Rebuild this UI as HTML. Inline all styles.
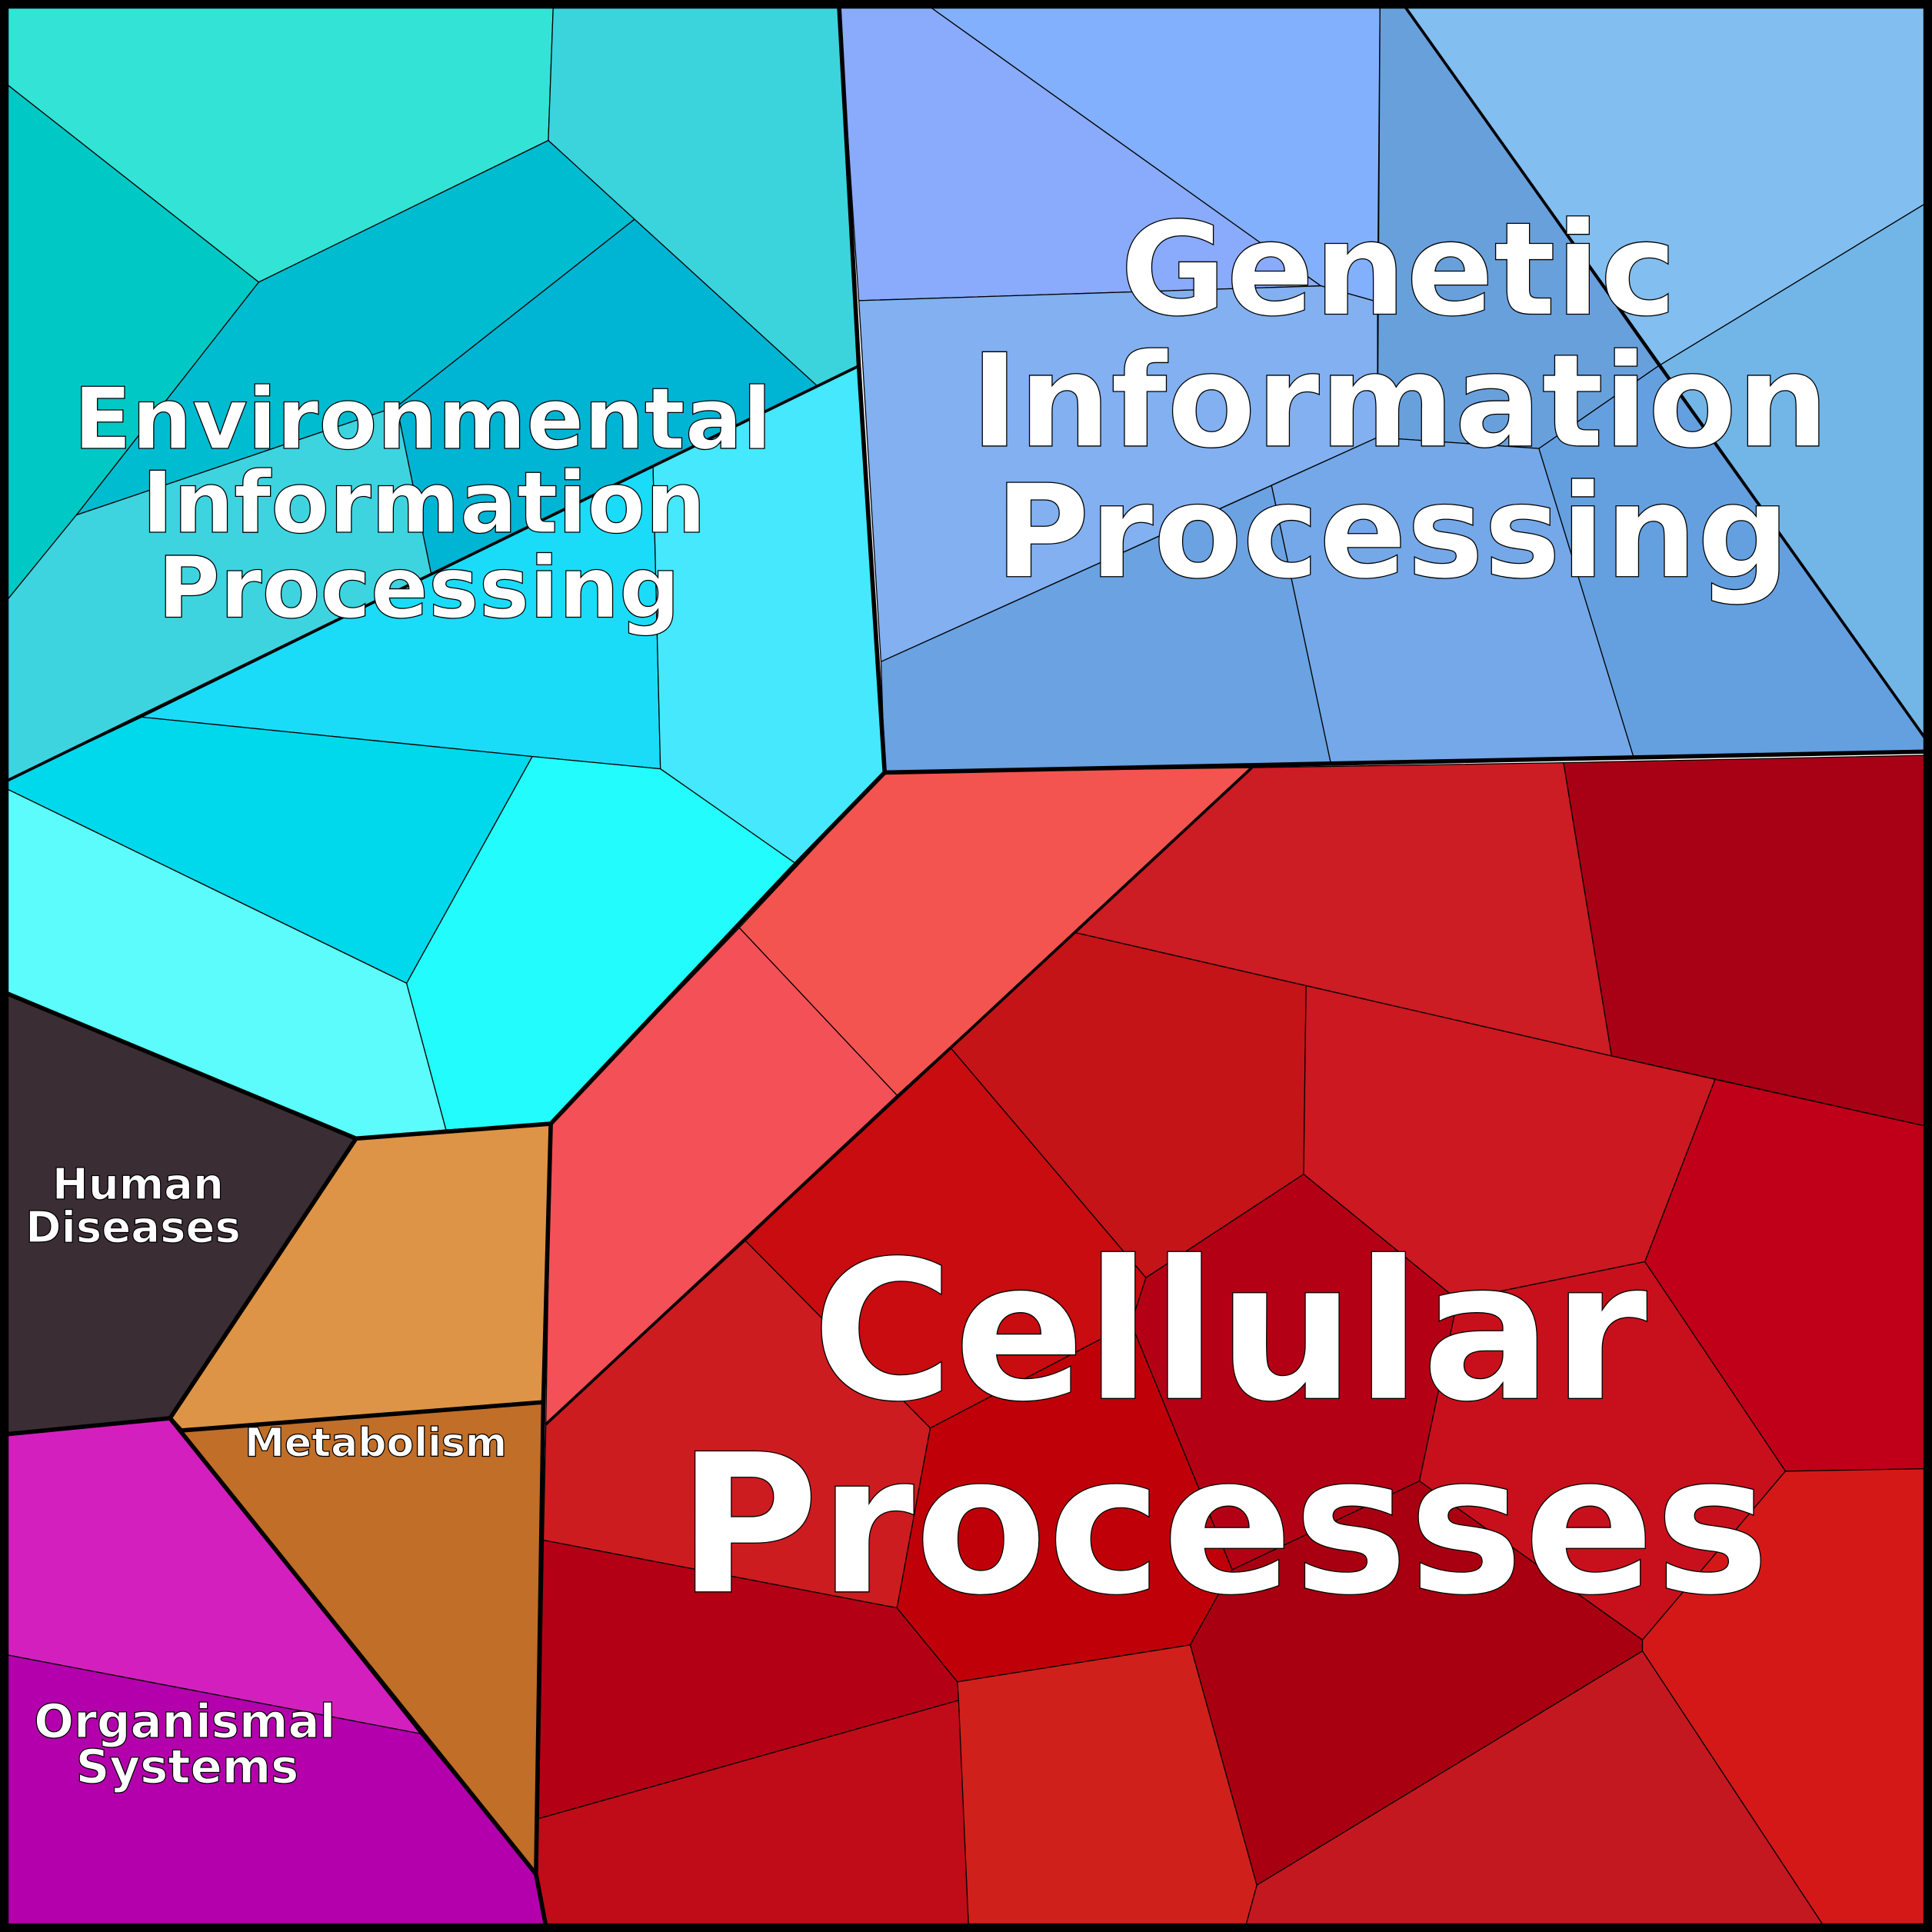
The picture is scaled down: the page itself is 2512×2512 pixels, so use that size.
<!DOCTYPE html>
<html><head><meta charset="utf-8"><style>html,body{margin:0;padding:0;background:#fff}svg{display:block}</style></head>
<body>
<svg xmlns="http://www.w3.org/2000/svg" width="2512" height="2512" viewBox="0 0 1568 1568">
<g stroke="#000" stroke-width="0.8" stroke-linejoin="round">
<polygon fill="#33e3d5" points="5,5 449,5 445,114 210,229 5,68"/>
<polygon fill="#3bd4dc" points="449,5 681,5 697,297 663,313 515,178 445,114"/>
<polygon fill="#00c8c4" points="5,68 210,229 62,418 5,488"/>
<polygon fill="#00bcd0" points="210,229 445,114 515,178 322,330 62,418"/>
<polygon fill="#00b4d4" points="322,330 515,178 663,313 350,466"/>
<polygon fill="#3dd4e0" points="5,488 62,418 322,330 350,466 5,634"/>
<polygon fill="#1adcf8" points="115,582 530,378 536,624 432,614"/>
<polygon fill="#45e8fc" points="530,378 697,297 718,627 646,701 536,624"/>
<polygon fill="#00d8ec" points="5,634 115,582 432,614 330,798 5,640"/>
<polygon fill="#5cfcfc" points="5,640 330,798 362,917 289,924 5,806"/>
<polygon fill="#22fcfc" points="432,614 536,624 646,701 447,912 362,917 330,798"/>
<polygon fill="#8aaafc" points="681,5 754,5 1072,232 697,244"/>
<polygon fill="#82b0fc" points="754,5 1120,5 1118,245 1072,232"/>
<polygon fill="#68a0dc" points="1120,5 1140,5 1346,297 1249,364 1118,355"/>
<polygon fill="#82bef0" points="1140,5 1563,5 1563,165 1346,297"/>
<polygon fill="#72b6e8" points="1563,165 1563,600 1346,297"/>
<polygon fill="#82b0f0" points="697,244 1072,232 1118,245 1118,355 715,537"/>
<polygon fill="#6aa2e2" points="715,537 1032,394 1080,619 718,627"/>
<polygon fill="#74a8e8" points="1032,394 1118,355 1249,364 1326,615 1080,619"/>
<polygon fill="#64a0e0" points="1249,364 1346,297 1563,600 1563,610 1326,615"/>
<polygon fill="#f45450" points="718,627 1016,623 873,757 728,889 600,753"/>
<polygon fill="#f45058" points="600,753 728,889 443,1156 447,912"/>
<polygon fill="#cc1c24" points="1016,623 1269,619 1308,857 1060,800 873,757"/>
<polygon fill="#a80014" points="1269,619 1563,613 1563,914 1308,857"/>
<polygon fill="#c41418" points="873,757 1060,800 1058,953 930,1037 772,851"/>
<polygon fill="#cc1820" points="1060,800 1308,857 1392,876 1335,1024 1183,1055 1058,953"/>
<polygon fill="#c00018" points="1392,876 1563,914 1563,1192 1449,1194 1335,1024"/>
<polygon fill="#c80c10" points="728,889 772,851 930,1037 918,1074 755,1159 605,1007"/>
<polygon fill="#cc1c20" points="605,1007 755,1159 728,1305 441,1250 443,1156"/>
<polygon fill="#b40014" points="930,1037 1058,953 1183,1055 1152,1202 1000,1274 918,1074"/>
<polygon fill="#c00008" points="918,1074 1000,1274 966,1335 777,1365 728,1305 755,1159"/>
<polygon fill="#c8101c" points="1183,1055 1335,1024 1449,1194 1333,1331 1152,1202"/>
<polygon fill="#a80010" points="1152,1202 1333,1331 1333,1340 1020,1530 966,1335 1000,1274"/>
<polygon fill="#d41818" points="1449,1194 1563,1192 1563,1563 1480,1563 1333,1340 1333,1331"/>
<polygon fill="#c41820" points="1333,1340 1480,1563 1011,1563 1020,1530"/>
<polygon fill="#d0201c" points="777,1365 966,1335 1020,1530 1011,1563 786,1563"/>
<polygon fill="#b40014" points="441,1250 728,1305 777,1365 778,1380 437,1476"/>
<polygon fill="#c00c18" points="437,1476 778,1380 786,1563 443,1563 435,1521"/>
<polygon fill="#3a2e34" points="5,806 289,924 138,1151 5,1164"/>
<polygon fill="#de9446" points="289,924 447,912 441,1138 147,1161 138,1151"/>
<polygon fill="#c06e28" points="147,1161 441,1138 435,1521"/>
<polygon fill="#d41fbf" points="5,1164 138,1151 341,1407 5,1343"/>
<polygon fill="#b400ac" points="5,1343 341,1407 435,1521 443,1563 5,1563"/>
</g>
<g fill="none" stroke="#000" stroke-width="3.5" stroke-linejoin="round">
<polyline points="681,5 697,297 718,627 646,701 447,912 289,924 5,806"/>
<polyline points="718,627 1563,610"/>
<polyline points="447,912 441,1138 435,1521 443,1563"/>
<polyline points="289,924 138,1151 5,1164"/>
<polyline points="138,1151 147,1161 441,1138"/>
<polyline points="138,1151 435,1521"/>
</g>
<g fill="none" stroke="#000" stroke-width="2.3" stroke-linejoin="round">
<polyline points="5,634 697,297"/>
<polyline points="1140,5 1563,600"/>
<polyline points="443,1156 1016,623"/>
</g>
<rect x="3.5" y="3.5" width="1561" height="1561" fill="none" stroke="#000" stroke-width="7"/>
<g font-family="'DejaVu Sans','Liberation Sans',sans-serif" font-weight="bold" fill="#fff" stroke="#000" stroke-width="0.8" text-anchor="middle">
<text font-size="105" x="1135" y="255">Genetic</text>
<text font-size="105" x="1136" y="362">Information</text>
<text font-size="105" x="1130" y="468">Processing</text>
<text font-size="69" x="343" y="364">Environmental</text>
<text font-size="69" x="344" y="432">Information</text>
<text font-size="69" x="340" y="501">Processing</text>
<text font-size="157" x="998" y="1135">Cellular</text>
<text font-size="157" x="993" y="1292">Processes</text>
<text font-size="35" x="112" y="973">Human</text>
<text font-size="35" x="108" y="1008">Diseases</text>
<text font-size="32.5" x="305" y="1182">Metabolism</text>
<text font-size="38" x="150" y="1410">Organismal</text>
<text font-size="38" x="152" y="1447">Systems</text>
</g>
</svg>
</body></html>
